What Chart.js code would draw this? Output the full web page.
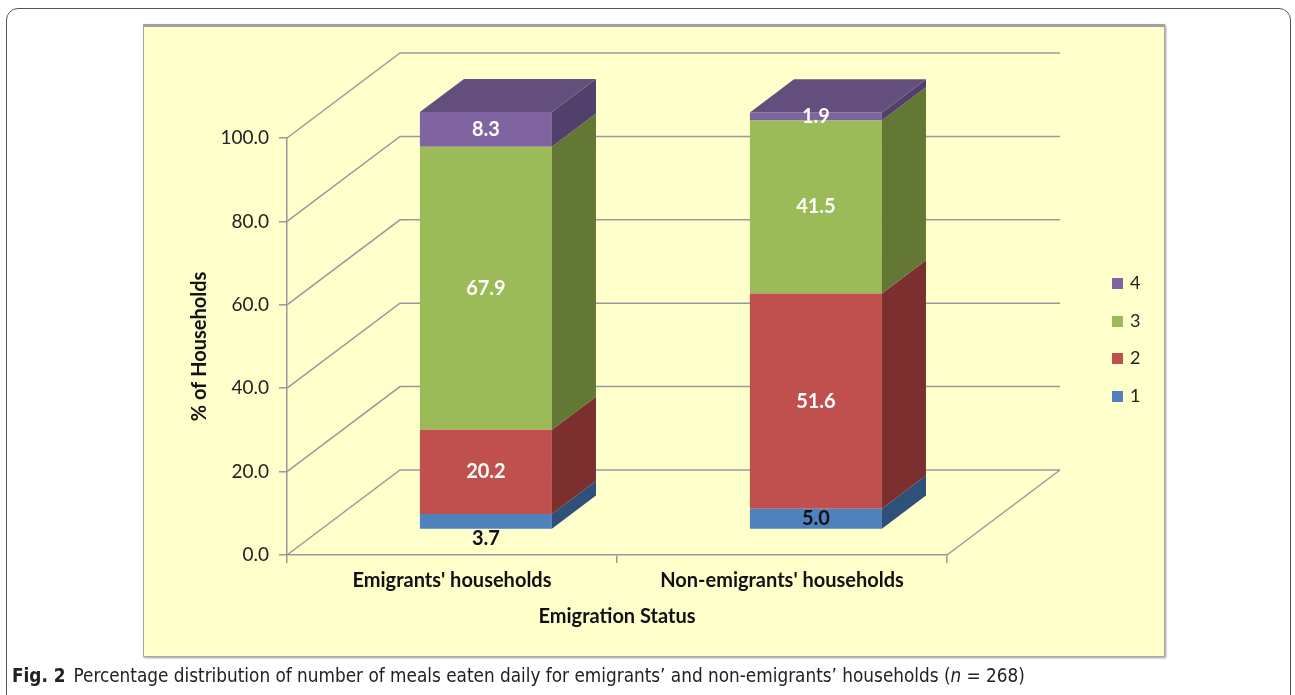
<!DOCTYPE html>
<html>
<head>
<meta charset="utf-8">
<script src="https://cdn.jsdelivr.net/npm/chart.js@4.4.0/dist/chart.umd.min.js"></script>
<style>
  html, body { margin:0; padding:0; background:#fff; width:1295px; height:695px; overflow:hidden; }
  #frame { position:absolute; left:6px; top:8px; width:1283px; height:720px; border:1.3px solid #555; border-radius:12px; }
  #panel { position:absolute; left:143px; top:24px; width:1020px; height:629px; background:#FFFFCC; border:1px solid #a8a8a8; box-shadow:1px 1px 2px #999; border-top:3px solid #a0a0a0; }
  #c { position:absolute; left:0; top:0; }
  #legend { position:absolute; left:1112px; top:271px; font-family:Lato, sans-serif; font-size:18px; color:#222; }
  .li { height:37.7px; display:flex; align-items:flex-start; }
  .sw { width:11px; height:11px; margin-right:7px; margin-top:7px; }
  #caption { position:absolute; left:12px; top:665px; font-family:"DejaVu Sans Condensed", sans-serif; font-size:18.8px; color:#222; white-space:nowrap; }
  #caption b { font-weight:bold; margin-right:8px; }
</style>
</head>
<body>
<div id="frame"></div>
<div id="panel"></div>
<canvas id="c" width="1295" height="695"></canvas>
<div id="legend"></div>
<div id="caption"><b>Fig. 2</b>Percentage distribution of number of meals eaten daily for emigrants’ and non-emigrants’ households (<i>n</i> = 268)</div>
<script>
const categories = ["Emigrants' households", "Non-emigrants' households"];
const seriesNames = ["1", "2", "3", "4"];
const meals1 = [3.7, 5.0];
const meals2 = [20.2, 51.6];
const meals3 = [67.9, 41.5];
const meals4 = [8.3, 1.9];
const yTickValues = [0, 20, 40, 60, 80, 100];

const frontColors = ['#4F81BD', '#C0504D', '#9BBB59', '#8064A2'];
const sideColors  = ['#2F5078', '#7B2F2E', '#637834', '#51406B'];
const topColor = '#634E7E';
const labelColors = ['#111', '#fff', '#fff', '#fff'];

// 3D geometry (pixels)
const WALL_DX = 113, WALL_DY = -85;
const FRONT_F = 0.30, DEPTH_F = 0.39;
const gridColor = '#999999';

const legendEl = document.getElementById('legend');
for (let i = seriesNames.length - 1; i >= 0; i--) {
  const d = document.createElement('div'); d.className = 'li';
  d.innerHTML = '<span class="sw" style="background:' + frontColors[i] + '"></span><span>' + seriesNames[i] + '</span>';
  legendEl.appendChild(d);
}

const depthPlugin = {
  id: 'depth3d',
  beforeDatasetsDraw(chart) {
    const ctx = chart.ctx, y = chart.scales.y;
    const L = chart.chartArea.left, R = chart.chartArea.right;
    ctx.save();
    ctx.strokeStyle = gridColor; ctx.lineWidth = 1.5;
    yTickValues.forEach(v => {
      const py = y.getPixelForValue(v);
      ctx.beginPath();
      ctx.moveTo(L, py);
      ctx.lineTo(L + WALL_DX, py + WALL_DY);
      ctx.lineTo(R + WALL_DX, py + WALL_DY);
      ctx.stroke();
    });
    const py0 = y.getPixelForValue(0);
    ctx.beginPath();
    ctx.moveTo(R, py0);
    ctx.lineTo(R + WALL_DX, py0 + WALL_DY);
    ctx.stroke();
    ctx.restore();
    ctx.save();
    ctx.translate(WALL_DX * FRONT_F, WALL_DY * FRONT_F);
  },
  afterDatasetsDraw(chart) {
    const ctx = chart.ctx;
    const dx = WALL_DX * DEPTH_F, dy = WALL_DY * DEPTH_F;
    const n = chart.data.datasets.length;
    for (let d = 0; d < n; d++) {
      const meta = chart.getDatasetMeta(d);
      meta.data.forEach((bar) => {
        const p = bar.getProps(['x', 'y', 'base', 'width'], true);
        const xr = p.x + p.width / 2, xl = p.x - p.width / 2;
        ctx.fillStyle = sideColors[d];
        ctx.beginPath();
        ctx.moveTo(xr, p.y); ctx.lineTo(xr + dx, p.y + dy);
        ctx.lineTo(xr + dx, p.base + dy); ctx.lineTo(xr, p.base);
        ctx.closePath(); ctx.fill();
        if (d === n - 1) {
          ctx.fillStyle = topColor;
          ctx.beginPath();
          ctx.moveTo(xl, p.y); ctx.lineTo(xl + dx, p.y + dy);
          ctx.lineTo(xr + dx, p.y + dy); ctx.lineTo(xr, p.y);
          ctx.closePath(); ctx.fill();
        }
      });
    }
    ctx.font = 'bold 20px Lato, sans-serif';
    ctx.textAlign = 'center'; ctx.textBaseline = 'middle';
    for (let d = 0; d < n; d++) {
      const meta = chart.getDatasetMeta(d);
      const vals = chart.data.datasets[d].data;
      meta.data.forEach((bar, i) => {
        const p = bar.getProps(['x', 'y', 'base'], true);
        let ly = (p.y + p.base) / 2;
        if (d === 0 && vals[i] < 4) ly = p.base + 10;
        ctx.fillStyle = labelColors[d];
        ctx.fillText(vals[i].toFixed(1), p.x, ly);
      });
    }
    ctx.restore();
  }
};

const datasets = [meals1, meals2, meals3, meals4].map((arr, i) => ({
  label: seriesNames[i],
  data: arr,
  backgroundColor: frontColors[i],
  borderWidth: 0,
  barPercentage: 0.4,
  categoryPercentage: 1.0,
  clip: false
}));

new Chart(document.getElementById('c'), {
  type: 'bar',
  data: { labels: categories, datasets },
  plugins: [depthPlugin],
  options: {
    responsive: false,
    animation: false,
    devicePixelRatio: 1,
    layout: { padding: { left: 184, right: 348, top: 138, bottom: 60 } },
    plugins: { legend: { display: false }, tooltip: { enabled: false } },
    scales: {
      x: {
        stacked: true,
        afterFit: s => { s.height = 80; },
        grid: { drawOnChartArea: false, offset: true, color: gridColor, lineWidth: 1.5, tickLength: 8 },
        border: { display: true, color: gridColor, width: 1.5 },
        ticks: { color: '#111', font: { family: 'Lato', size: 20, weight: 'bold' }, padding: 6 },
        title: { display: true, text: 'Emigration Status', color: '#111', font: { family: 'Lato', size: 20, weight: 'bold' }, padding: { top: 4, bottom: 6 } }
      },
      y: {
        stacked: true,
        min: 0, max: 100,
        afterFit: s => { s.width = 103; },
        afterBuildTicks: s => { s.ticks = yTickValues.map(v => ({ value: v })); },
        grid: { drawOnChartArea: false, color: gridColor, lineWidth: 1.5, tickLength: 8 },
        border: { display: true, color: gridColor, width: 1.5 },
        ticks: { color: '#222', font: { family: 'Lato', size: 19 }, padding: 10, callback: v => Number(v).toFixed(1) },
        title: { display: true, text: '% of Households', color: '#111', font: { family: 'Lato', size: 20, weight: 'bold' }, padding: 4 }
      }
    }
  }
});
</script>
</body>
</html>
